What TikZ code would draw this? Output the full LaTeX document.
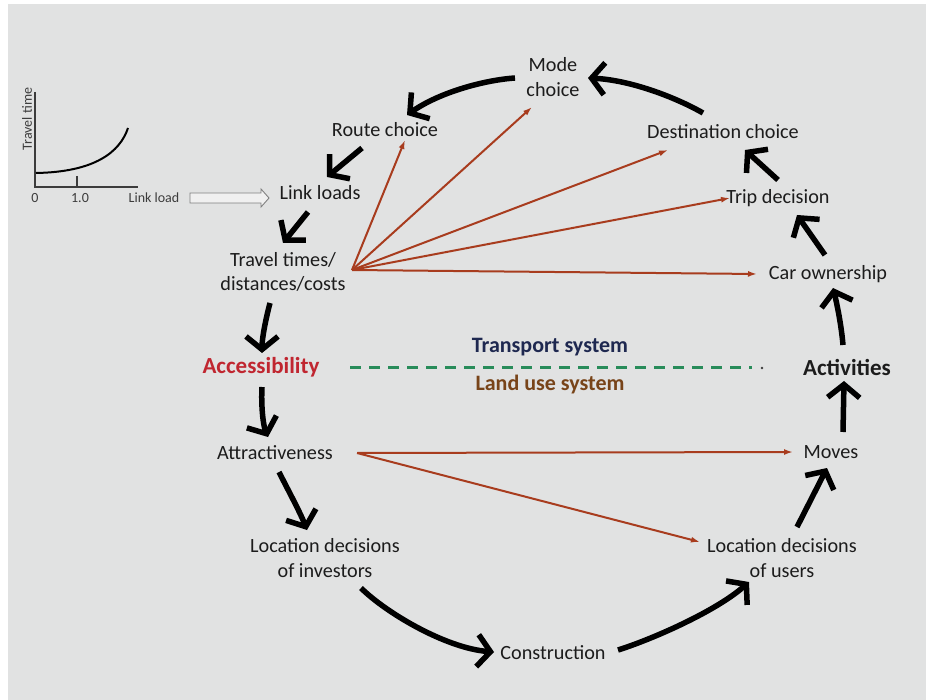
\documentclass[tikz,border=0pt]{standalone}
\usepackage{fontspec}
\setmainfont{Carlito}
\usetikzlibrary{arrows.meta,calc}
\definecolor{bg}{RGB}{225,226,226}
\definecolor{txt}{RGB}{28,28,28}
\definecolor{accred}{RGB}{192,38,48}
\definecolor{navy}{RGB}{30,40,80}
\definecolor{landbrown}{RGB}{120,68,25}
\definecolor{rust}{RGB}{168,60,30}
\definecolor{dashgreen}{RGB}{40,140,90}
\definecolor{graphgray}{RGB}{60,60,60}
\begin{document}
\begin{tikzpicture}[x=1pt,y=-1pt,
  lbl/.style={font=\fontsize{20.2}{24.5}\selectfont, text=txt, align=center, inner sep=1pt},
  boldlbl/.style={font=\fontsize{23}{27}\selectfont\bfseries, text=txt, inner sep=1pt},
  syslbl/.style={font=\fontsize{22}{26}\selectfont\bfseries, inner sep=1pt},
  smalllbl/.style={font=\fontsize{14}{16}\selectfont, text=graphgray, inner sep=0.5pt},
  cyc/.style={line width=5.5pt, draw=black, -{Straight Barb[length=13pt,width=32pt]}},
  inf/.style={line width=2pt, draw=rust, -{Latex[length=9pt,width=6pt]}}]
\useasboundingbox (0,0) rectangle (926,700);
\fill[white] (0,0) rectangle (926,700);
\fill[bg] (8,4) rectangle (926,700);

% small graph
\draw[line width=1.5pt, graphgray] (35,92) -- (35,187) -- (138,187);
\draw[line width=1.2pt, graphgray] (77,176) -- (77,187);
\draw[line width=2pt, black] (36,173) .. controls (95,172) and (120,152) .. (128,128);
\node[smalllbl, rotate=90] (ttime) at (27,119) {Travel time};
\node[smalllbl] (zero) at (35,198) {0};
\node[smalllbl] (one) at (80,198) {1.0};
\node[smalllbl] (lload) at (154,198) {Link load};

% nodes
\node[lbl] (mode) at (553,77) {Mode\\choice};
\node[lbl] (route) at (385,130) {Route choice};
\node[lbl] (dest) at (723,132) {Destination choice};
\node[lbl] (link) at (320,193) {Link loads};
\node[lbl] (trip) at (778,198) {Trip decision};
\node[lbl] (travel) at (283,272) {Travel times/\\distances/costs};
\node[lbl] (car) at (828,274) {Car ownership};
\node[boldlbl, text=accred] (acc) at (261,367) {Accessibility};
\node[syslbl, text=navy] (tsys) at (550,347) {Transport system};
\node[syslbl, text=landbrown] (lsys) at (550,385) {Land use system};
\node[boldlbl] (act) at (847,367) {Activities};
\node[lbl] (attr) at (275,453) {Attractiveness};
\node[lbl] (moves) at (831,452) {Moves};
\node[lbl] (inv) at (325,558) {Location decisions\\of investors};
\node[lbl] (users) at (782,558) {Location decisions\\of users};
\node[lbl] (constr) at (553,653) {Construction};

% hollow arrow from graph to link loads
\draw[line width=0.9pt, draw=gray, fill=bg!50!white]
  ($(lload.east)+(10,-5)$) -- ++(71,0) -- ++(0,-4) -- ++(8,9) -- ++(-8,9) -- ++(0,-4) -- ++(-71,0) -- cycle;

% divider
\coordinate (dl) at (350,368);
\coordinate (dr) at (752,368);
\draw[dashgreen, line width=3pt, dash pattern=on 11pt off 8pt] (dl) -- (dr);
\fill[graphgray] (762,368) circle (1.3);

% cycle arrows
\draw[cyc] ($(dest)+(-20,-19)$) .. controls (675,97) and (630,80) .. ($(mode)+(35,1)$);
\draw[cyc] ($(mode)+(-38,1)$) .. controls (485,80) and (440,92) .. ($(route)+(22,-15)$);
\draw[cyc] ($(route)+(-23,18)$) -- ($(link)+(7,-16)$);
\draw[cyc] ($(link)+(-12,19)$) -- ($(travel)+(0,-29)$);
\draw[cyc] ($(travel)+(-13,31)$) .. controls (266,318) and (262,338) .. ($(acc)+(1,-14)$);
\draw[cyc] ($(acc)+(1,20)$) .. controls (261,405) and (263,425) .. ($(attr)+(-7,-16)$);
\draw[cyc] ($(attr)+(4,19)$) .. controls (288,490) and (300,512) .. ($(inv)+(-18,-28)$);
\draw[cyc] ($(inv)+(36,30)$) .. controls (385,612) and (445,648) .. ($(constr)+(-59,-1)$);
\draw[cyc] ($(constr)+(65,-3)$) .. controls (650,640) and (715,612) .. ($(users)+(-33,24)$);
\draw[cyc] ($(users)+(15,-31)$) -- ($(moves)+(-4,16)$);
\draw[cyc] ($(moves)+(12,-20)$) -- ($(act)+(-3,14)$);
\draw[cyc] ($(act)+(-4,-22)$) .. controls (841,322) and (836,300) .. ($(car)+(5,14)$);
\draw[cyc] ($(car)+(-3,-19)$) -- ($(trip)+(19,17)$);
\draw[cyc] ($(trip)+(0,-18)$) -- ($(dest)+(22,18)$);

% influence arrows
\draw[inf] ($(travel)+(69,-2)$) -- ($(route)+(20,10)$);
\draw[inf] ($(travel)+(69,-2)$) -- ($(mode)+(-21,30)$);
\draw[inf] ($(travel)+(69,-2)$) -- ($(dest)+(-55,18)$);
\draw[inf] ($(travel)+(69,-2)$) -- ($(trip)+(-48,0)$);
\draw[inf] ($(travel)+(69,-2)$) -- ($(car)+(-71,0)$);
\draw[inf] ($(attr)+(82,0)$) -- ($(moves)+(-38,0)$);
\draw[inf] ($(attr)+(82,0)$) -- ($(users)+(-82,-16)$);
\end{tikzpicture}
\end{document}
